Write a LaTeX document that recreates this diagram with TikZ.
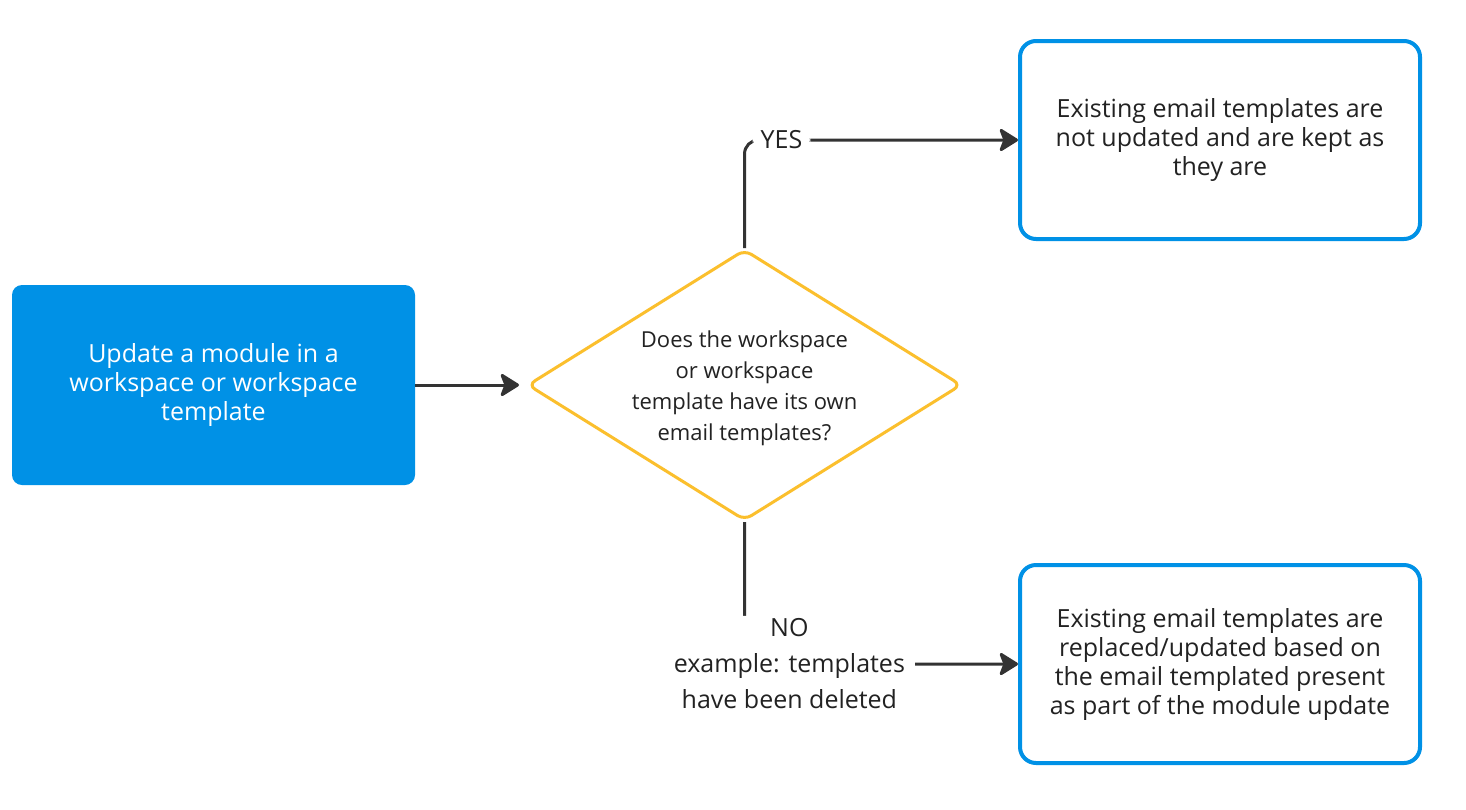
\documentclass[tikz,border=0pt]{standalone}
\usepackage{fontspec}
\setmainfont{Open Sans}
\usetikzlibrary{shapes.geometric,arrows.meta}
\definecolor{mblue}{RGB}{0,145,230}
\definecolor{myellow}{RGB}{251,191,45}
\definecolor{mline}{RGB}{51,51,51}
\definecolor{mtext}{RGB}{34,34,34}
\begin{document}
\begin{tikzpicture}[x=1pt,y=-1pt,
  conn/.style={draw=mline, line width=3pt},
  arr/.style={conn, -{Stealth[length=21pt,width=26pt,inset=5pt,round]}},
  srcbox/.style={fill=mblue, draw=none, rounded corners=10pt, text=white,
    align=center, font=\fontsize{25}{29}\selectfont},
  outbox/.style={draw=mblue, line width=4pt, fill=white, rounded corners=16pt,
    minimum width=400pt, minimum height=198pt, text=mtext, align=center,
    font=\fontsize{25}{29}\selectfont},
  decision/.style={diamond, draw=myellow, line width=3pt, rounded corners=8pt,
    minimum width=434pt, minimum height=271pt, inner sep=0pt},
  qtext/.style={text=mtext, align=center, font=\fontsize{22}{31}\selectfont},
  lbl/.style={fill=white, text=mtext, align=center, font=\fontsize{25}{36}\selectfont}
]
\useasboundingbox (0,0) rectangle (1466,809);
\fill[white] (0,0) rectangle (1466,809);

\node[srcbox, minimum width=403pt, minimum height=200pt] (src) at (213.5,385)
  {Update a module in a\\workspace or workspace\\template};
\node[decision] (d) at (744.5,385) {};
\node[qtext] (q) at (744.5,388)
  {Does the workspace\\or workspace\\template have its own\\email templates?};
\node[outbox] (top) at (1220,140)
  {Existing email templates are\\not updated and are kept as\\they are};
\node[outbox] (bot) at (1220,664)
  {Existing email templates are\\replaced/updated based on\\the email templated present\\as part of the module update};

\draw[arr, shorten >=7pt] (src.east) -- (d.west);
\draw[arr, rounded corners=14pt] (d.north) |- (top.west)
  node[lbl, pos=0.5675, inner xsep=8pt, inner ysep=2pt] {YES};
\draw[arr, rounded corners=14pt] (d.south) |- (bot.west)
  node[lbl, pos=0.582, inner xsep=10pt, inner ysep=3pt] {NO\\example: templates\\have been deleted};
\end{tikzpicture}
\end{document}
